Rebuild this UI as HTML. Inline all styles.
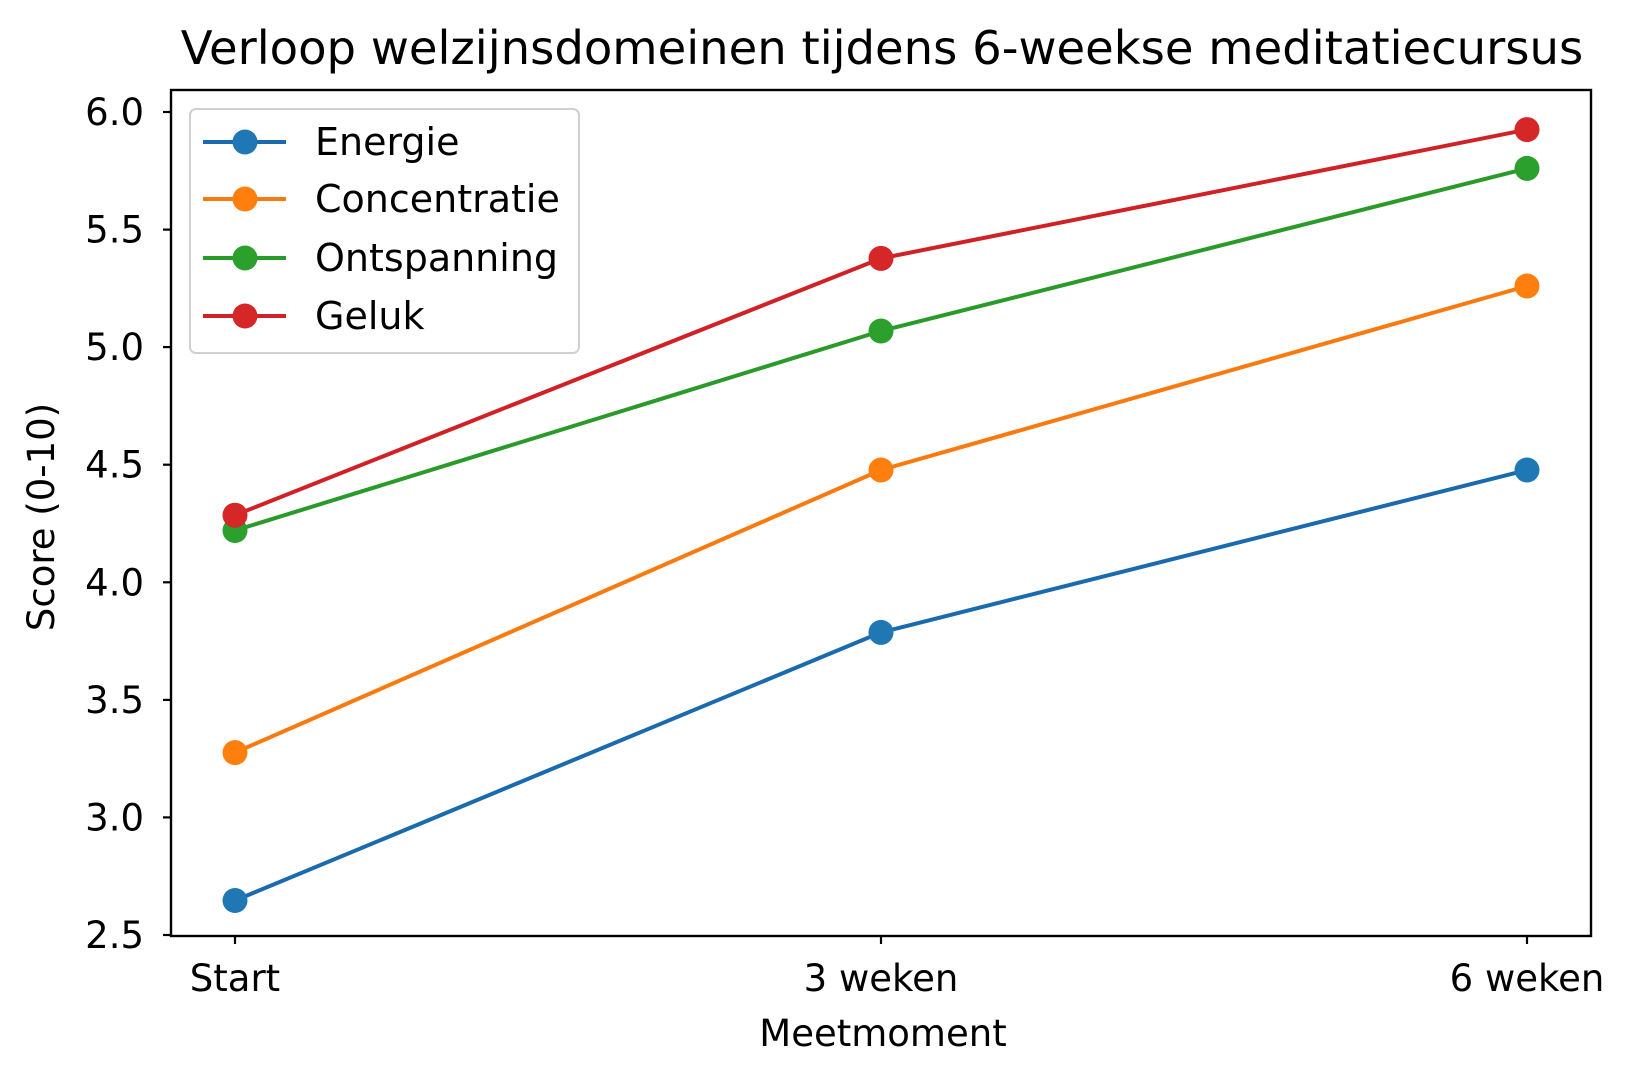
<!DOCTYPE html>
<html><head><meta charset="utf-8"><style>
html,body{margin:0;padding:0;background:#fff;}
svg{display:block;font-family:"DejaVu Sans","Liberation Sans",sans-serif;}
</style></head><body>
<svg width="1631" height="1083" viewBox="0 0 1631 1083" xmlns="http://www.w3.org/2000/svg">
<rect width="1631" height="1083" fill="#fff"/>
<text x="882" y="64" font-size="46.5" text-anchor="middle" fill="#000">Verloop welzijnsdomeinen tijdens 6-weekse meditatiecursus</text>
<!-- axes -->
<rect x="171" y="90" width="1420" height="846" fill="none" stroke="#000" stroke-width="2.4"/>
<g stroke="#000" stroke-width="2.2">
<line x1="163" y1="112" x2="171" y2="112"/>
<line x1="163" y1="229.6" x2="171" y2="229.6"/>
<line x1="163" y1="347.1" x2="171" y2="347.1"/>
<line x1="163" y1="464.7" x2="171" y2="464.7"/>
<line x1="163" y1="582.3" x2="171" y2="582.3"/>
<line x1="163" y1="699.9" x2="171" y2="699.9"/>
<line x1="163" y1="817.4" x2="171" y2="817.4"/>
<line x1="163" y1="935" x2="171" y2="935"/>
<line x1="235" y1="936" x2="235" y2="944"/>
<line x1="881" y1="936" x2="881" y2="944"/>
<line x1="1527" y1="936" x2="1527" y2="944"/>
</g>
<g font-size="37" text-anchor="end" fill="#000">
<text x="144" y="125">6.0</text>
<text x="144" y="242.6">5.5</text>
<text x="144" y="360.1">5.0</text>
<text x="144" y="477.7">4.5</text>
<text x="144" y="595.3">4.0</text>
<text x="144" y="712.9">3.5</text>
<text x="144" y="830.4">3.0</text>
<text x="144" y="948">2.5</text>
</g>
<g font-size="37" text-anchor="middle" fill="#000">
<text x="235" y="991">Start</text>
<text x="881" y="991">3 weken</text>
<text x="1527" y="991">6 weken</text>
<text x="883" y="1046">Meetmoment</text>
</g>
<text transform="translate(54,517) rotate(-90)" font-size="37" text-anchor="middle" fill="#000">Score (0-10)</text>
<!-- series -->
<g stroke-width="4" fill="none">
<polyline stroke="#1a6aad" points="235,900.5 881,632.4 1527,470"/>
<polyline stroke="#fa7a10" points="235,752.6 881,470 1527,286"/>
<polyline stroke="#2a9a2a" points="235,530.5 881,331 1527,168.4"/>
<polyline stroke="#d02226" points="235,515.2 881,258.4 1527,129.6"/>
</g>
<g>
<circle cx="235" cy="900.5" r="12.5" fill="#1f77b4"/><circle cx="881" cy="632.4" r="12.5" fill="#1f77b4"/><circle cx="1527" cy="470" r="12.5" fill="#1f77b4"/>
<circle cx="235" cy="752.6" r="12.5" fill="#ff7f0e"/><circle cx="881" cy="470" r="12.5" fill="#ff7f0e"/><circle cx="1527" cy="286" r="12.5" fill="#ff7f0e"/>
<circle cx="235" cy="530.5" r="12.5" fill="#2ca02c"/><circle cx="881" cy="331" r="12.5" fill="#2ca02c"/><circle cx="1527" cy="168.4" r="12.5" fill="#2ca02c"/>
<circle cx="235" cy="515.2" r="12.5" fill="#d62728"/><circle cx="881" cy="258.4" r="12.5" fill="#d62728"/><circle cx="1527" cy="129.6" r="12.5" fill="#d62728"/>
</g>
<!-- legend -->
<rect x="190" y="109" width="389" height="244" rx="6" fill="#fff" fill-opacity="0.85" stroke="#d0d0d0" stroke-width="2"/>
<g stroke-width="4">
<line x1="203" y1="142" x2="286" y2="142" stroke="#1a6aad"/><circle cx="245" cy="142" r="12.5" fill="#1f77b4"/>
<line x1="203" y1="199" x2="286" y2="199" stroke="#fa7a10"/><circle cx="245" cy="199" r="12.5" fill="#ff7f0e"/>
<line x1="203" y1="258" x2="286" y2="258" stroke="#2a9a2a"/><circle cx="245" cy="258" r="12.5" fill="#2ca02c"/>
<line x1="203" y1="316" x2="286" y2="316" stroke="#d02226"/><circle cx="245" cy="316" r="12.5" fill="#d62728"/>
</g>
<g font-size="38" fill="#000">
<text x="315" y="155">Energie</text>
<text x="315" y="212">Concentratie</text>
<text x="315" y="271">Ontspanning</text>
<text x="315" y="329">Geluk</text>
</g>
</svg>
</body></html>
